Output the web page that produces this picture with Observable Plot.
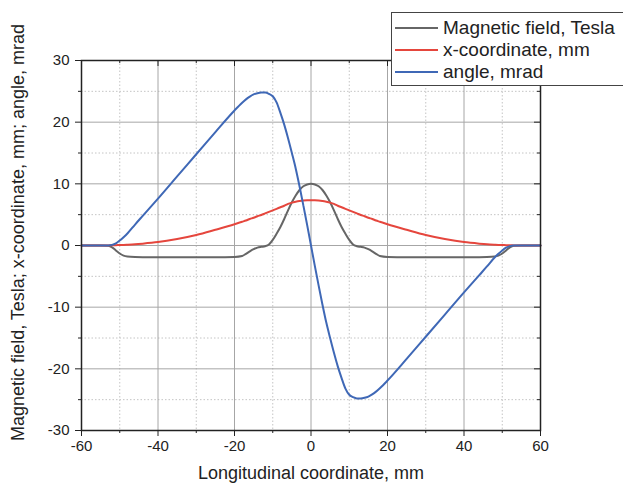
<!DOCTYPE html>
<html>
<head>
<meta charset="utf-8">
<script src="https://cdn.jsdelivr.net/npm/d3@7"></script>
<script src="https://cdn.jsdelivr.net/npm/@observablehq/plot@0.6"></script>
<style>
  html, body { margin: 0; padding: 0; background: #fff; overflow: hidden; }
  #wrap { position: relative; width: 623px; height: 489px; font-family: "Liberation Sans", Arial, sans-serif; }
  #legend { position: absolute; left: 391px; top: 12px; width: 250px; height: 74px; border: 1px solid #444; background: #fff; box-sizing: border-box; }
  .row { position: absolute; left: 0; height: 22px; display: flex; align-items: center; font-size: 19px; color: #222; white-space: nowrap; }
  .sw { display: inline-block; width: 43px; height: 2px; margin-left: 3px; margin-right: 5px; }
</style>
</head>
<body>
<div id="wrap"></div>
<script>
// Longitudinal coordinate, mm
const xs = [-60,-55,-53,-52,-51,-50,-49,-48,-46,-44,-40,-35,-30,-25,-20,-18,-17,-16,-15,-14,-13,-12,-11,-10,-9,-8,-7,-6,-5,-4,-3,-2,-1,0,
            1,2,3,4,5,6,7,8,9,10,11,12,13,14,15,16,17,18,20,25,30,35,40,44,46,48,49,50,51,52,53,55,60];
// Magnetic field, Tesla
const field = [0,0,-0.05,-0.3,-0.8,-1.3,-1.65,-1.8,-1.88,-1.9,-1.9,-1.9,-1.9,-1.9,-1.85,-1.7,-1.35,-0.95,-0.6,-0.35,-0.22,-0.12,0.15,0.9,1.9,3.0,4.3,5.7,7.0,8.1,9.0,9.6,9.9,10,
               9.9,9.6,9.0,8.1,7.0,5.7,4.3,3.0,1.9,0.9,0.15,-0.12,-0.22,-0.35,-0.6,-0.95,-1.35,-1.7,-1.85,-1.9,-1.9,-1.9,-1.9,-1.9,-1.88,-1.8,-1.65,-1.3,-0.8,-0.3,-0.05,0,0];
// x-coordinate, mm
const xcoord = [0,0,0.02,0.03,0.05,0.08,0.1,0.13,0.2,0.3,0.55,1.05,1.7,2.55,3.45,3.85,4.05,4.3,4.5,4.75,4.95,5.2,5.45,5.7,5.95,6.2,6.45,6.75,6.95,7.1,7.22,7.3,7.34,7.35,
                7.34,7.3,7.22,7.1,6.95,6.75,6.45,6.2,5.95,5.7,5.45,5.2,4.95,4.75,4.5,4.3,4.05,3.85,3.45,2.55,1.7,1.05,0.55,0.3,0.2,0.13,0.1,0.08,0.05,0.03,0.02,0,0];
// angle, mrad
const angle = [0,0,0.02,0.1,0.35,0.8,1.35,1.95,3.4,4.8,7.6,11.2,14.8,18.4,21.9,23.15,23.7,24.15,24.5,24.7,24.8,24.8,24.6,24.2,23.2,21.5,19.6,17.4,15.0,12.5,9.6,6.5,3.3,0,
               -3.3,-6.5,-9.6,-12.5,-15.0,-17.4,-19.6,-21.5,-23.2,-24.2,-24.6,-24.8,-24.8,-24.7,-24.5,-24.15,-23.7,-23.15,-21.9,-18.4,-14.8,-11.2,-7.6,-4.8,-3.4,-1.95,-1.35,-0.8,-0.35,-0.1,-0.02,0,0];

const seriesNames = ["Magnetic field, Tesla", "x-coordinate, mm", "angle, mrad"];
const seriesColors = ["#666666", "#e5463d", "#3f68b6"];
const xMajor = [-60,-40,-20,0,20,40,60];
const xMinor = [-50,-30,-10,10,30,50];
const yMajor = [-30,-20,-10,0,10,20,30];
const yMinor = [-25,-15,-5,5,15,25];
const xLabel = "Longitudinal coordinate, mm";
const yLabel = "Magnetic field, Tesla; x-coordinate, mm; angle, mrad";

const seriesValues = [field, xcoord, angle];
const data = [];
seriesValues.forEach((vals, s) => vals.forEach((v, i) => data.push({x: xs[i], y: v, s: seriesNames[s]})));

const W = 623, H = 489, mL = 81, mR = 83, mT = 60, mB = 59;
const plotW = W - mL - mR, plotH = H - mT - mB;
const fmt = d => String(d);

const chart = Plot.plot({
  width: W, height: H,
  marginLeft: mL, marginRight: mR, marginTop: mT, marginBottom: mB,
  style: {fontFamily: "'Liberation Sans', Arial, sans-serif", background: "#fff", color: "#222"},
  x: {domain: [-60, 60]},
  y: {domain: [-30, 30]},
  color: {domain: seriesNames, range: seriesColors},
  marks: [
    Plot.gridX(xMinor, {stroke: "#c4c4c4", strokeOpacity: 1, strokeDasharray: "1.5,2"}),
    Plot.gridY(yMinor, {stroke: "#c4c4c4", strokeOpacity: 1, strokeDasharray: "1.5,2"}),
    Plot.gridX(xMajor, {stroke: "#a6a6a6", strokeOpacity: 1}),
    Plot.gridY(yMajor, {stroke: "#a6a6a6", strokeOpacity: 1}),
    Plot.axisX(xMajor, {tickSize: 6, tickPadding: 4, fontSize: 15, label: null, stroke: "#222", tickFormat: fmt}),
    Plot.axisX(xMinor, {tickSize: 3, text: null, label: null, stroke: "#222"}),
    Plot.axisY(yMajor, {tickSize: 6, tickPadding: 6, fontSize: 15, label: null, stroke: "#222", tickFormat: fmt}),
    Plot.axisY(yMinor, {tickSize: 3, text: null, label: null, stroke: "#222"}),
    // inward ticks on top and right edges
    Plot.tickX(xMajor, {x: d => d, stroke: "#222", insetBottom: plotH - 6}),
    Plot.tickX(xMinor, {x: d => d, stroke: "#222", insetBottom: plotH - 3}),
    Plot.tickY(yMajor, {y: d => d, stroke: "#222", insetLeft: plotW - 6}),
    Plot.tickY(yMinor, {y: d => d, stroke: "#222", insetLeft: plotW - 3}),
    Plot.line(data, {x: "x", y: "y", z: "s", stroke: "s", strokeWidth: 2, curve: "monotone-x"}),
    Plot.frame({stroke: "#222", strokeWidth: 1.5}),
    Plot.text([xLabel], {frameAnchor: "bottom", dy: 48, fontSize: 18, fill: "#222"}),
    Plot.text([yLabel], {frameAnchor: "left", textAnchor: "middle", dx: -63, dy: -13, rotate: -90, fontSize: 18, fill: "#222"})
  ]
});

const wrap = document.getElementById("wrap");
wrap.appendChild(chart);

const legend = document.createElement("div");
legend.id = "legend";
seriesNames.forEach((name, i) => {
  const row = document.createElement("div");
  row.className = "row";
  row.style.top = (4 + i * 22) + "px";
  const sw = document.createElement("span");
  sw.className = "sw";
  sw.style.background = seriesColors[i];
  row.appendChild(sw);
  row.appendChild(document.createTextNode(name));
  legend.appendChild(row);
});
wrap.appendChild(legend);
</script>
</body>
</html>
